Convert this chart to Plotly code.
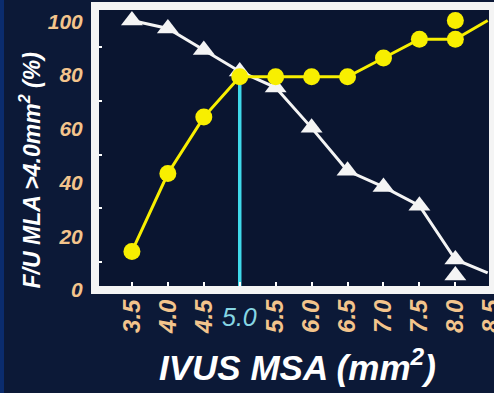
import plotly.graph_objects as go

# IVUS minimal stent area (mm^2) at each cut-off
msa = [3.5, 4.0, 4.5, 5.0, 5.5, 6.0, 6.5, 7.0, 7.5, 8.0]
# Yellow series: % with follow-up MLA > 4.0 mm^2 (circles)
fu_mla_pct = [14, 43, 64, 79, 79, 79, 79, 86, 93, 93]
# White series (triangles)
white_pct = [100, 97, 89, 81, 75, 60, 44, 38, 31, 11]
# Extra end points and line continuations beyond the last cut-off
yellow_extra_x, yellow_extra_y = [8.0], [100]
white_extra_x, white_extra_y = [8.0], [5]
tail_x = 8.45
yellow_tail_y = 100
white_tail_y = 6

# Optimal cut-off marker
cutoff_x = 5.0
cutoff_top = 77

x_ticks = [3.5, 4.0, 4.5, 5.0, 5.5, 6.0, 6.5, 7.0, 7.5, 8.0, 8.5]
x_tick_text = ["3.5", "4.0", "4.5", "", "5.5", "6.0", "6.5", "7.0", "7.5", "8.0", "8.5"]
y_ticks = [0, 20, 40, 60, 80, 100]
y_minor = [10, 30, 50, 70, 90]

BG = "#0c1937"
PLOT_BG = "#0a1530"
ORANGE = "#f3c48c"
YELLOW = "#f8ef00"
WHITE = "#f4f4f4"
FRAME = "#f4f4f4"
CYAN = "#3fd9ea"
FONT = "Liberation Sans"

fig = go.Figure()

# cut-off line
fig.add_trace(go.Scatter(
    x=[cutoff_x, cutoff_x], y=[0, cutoff_top], mode="lines",
    line=dict(color=CYAN, width=3.5), hoverinfo="skip", showlegend=False))

# white triangle series
fig.add_trace(go.Scatter(
    x=msa + [tail_x], y=white_pct + [white_tail_y], mode="lines",
    line=dict(color=WHITE, width=3), showlegend=False))
fig.add_trace(go.Scatter(
    x=msa + white_extra_x, y=white_pct + white_extra_y, mode="markers",
    marker=dict(symbol="triangle-up", size=19, color=WHITE, line=dict(width=0)),
    showlegend=False))

# yellow circle series
fig.add_trace(go.Scatter(
    x=msa + [tail_x], y=fu_mla_pct + [yellow_tail_y], mode="lines",
    line=dict(color=YELLOW, width=3), showlegend=False))
fig.add_trace(go.Scatter(
    x=msa + yellow_extra_x, y=fu_mla_pct + yellow_extra_y, mode="markers",
    marker=dict(symbol="circle", size=17, color=YELLOW, line=dict(width=0)),
    showlegend=False))

# cut-off value label, drawn upright in cyan
fig.add_annotation(
    x=cutoff_x, xref="x", y=-0.1, yref="paper", yanchor="middle",
    text="<i>5.0</i>", showarrow=False,
    font=dict(family=FONT, size=25, color="#86d6e4", style="italic"))

# axis titles
fig.add_annotation(
    x=0.51, xref="paper", y=-0.27, yref="paper", yanchor="middle",
    text="IVUS MSA (mm<sup>2</sup>)", showarrow=False,
    font=dict(family=FONT, size=35, color="white", weight="bold", style="italic"))
fig.add_annotation(
    x=-0.167, xref="paper", y=0.42, yref="paper", xanchor="center", yanchor="middle",
    text="F/U MLA &gt;4.0mm<sup>2</sup> (%)", textangle=-90, showarrow=False,
    font=dict(family=FONT, size=23, color="white", weight="bold", style="italic"))

fig.update_layout(
    width=494, height=393,
    margin=dict(l=96, r=2, t=7, b=104, autoexpand=False),
    paper_bgcolor=BG, plot_bgcolor=PLOT_BG,
    shapes=[
        dict(type="rect", xref="paper", yref="paper",
             x0=-96 / 396, x1=-92 / 396, y0=-104 / 282, y1=7 / 282 + 1,
             fillcolor="#0b2c6e", line=dict(width=0), layer="below"),
        # light frame around the plotting area
        dict(type="rect", xref="paper", yref="paper", x0=0, x1=1, y0=0, y1=1,
             line=dict(color=FRAME, width=6), fillcolor="rgba(0,0,0,0)", layer="above"),
    ],
)

fig.update_xaxes(
    range=[3.0, 8.51], showgrid=False, zeroline=False,
    showline=True, linecolor=FRAME, linewidth=5, mirror=True,
    automargin=False,
    tickmode="array", tickvals=x_ticks, ticktext=x_tick_text,
    ticks="inside", ticklen=7, tickwidth=2, tickcolor="white",
    tickangle=-90, ticklabelstandoff=-4, ticklabeloverflow="allow",
    tickfont=dict(family=FONT, size=24, color=ORANGE, weight="bold", style="italic"),
)

fig.update_yaxes(
    range=[0, 105], showgrid=False, zeroline=False,
    showline=True, linecolor=FRAME, linewidth=5, mirror=True,
    automargin=False,
    tickmode="array", tickvals=y_ticks, ticktext=[str(v) for v in y_ticks],
    ticks="",
    minor=dict(tickvals=y_minor, ticks="inside", ticklen=6, tickwidth=2, tickcolor="white"),
    ticklabelshift=1, ticklabelstandoff=4,
    tickfont=dict(family=FONT, size=21, color=ORANGE, weight="bold", style="italic"),
)

fig.write_html("out.html")
